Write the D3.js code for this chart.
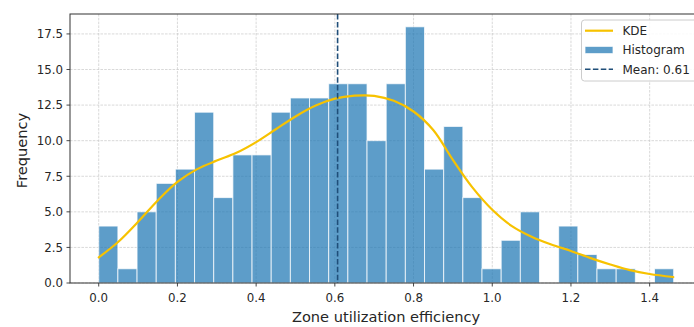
<!DOCTYPE html>
<html>
<head>
<meta charset="utf-8">
<script src="https://cdn.jsdelivr.net/npm/d3@7"></script>
<style>
  html, body { margin: 0; padding: 0; background: #fff; }
  svg { display: block; font-family: "DejaVu Sans", sans-serif; }
</style>
</head>
<body>
<svg id="chart" width="694" height="327"></svg>
<script>
// ---------------- data ----------------
const histCounts = [4, 1, 5, 7, 8, 12, 6, 9, 9, 12, 13, 13, 14, 14, 10, 14, 18, 8, 11, 6, 1, 3, 5, 0, 4, 2, 1, 1, 0, 1];
const histMin = 0.0;
const histMax = 1.461;

const kdeX = [0, 0.05, 0.10, 0.15, 0.20, 0.25, 0.30, 0.35, 0.40, 0.45, 0.50, 0.55, 0.60, 0.65, 0.70,
              0.75, 0.80, 0.85, 0.90, 0.95, 1.00, 1.05, 1.10, 1.15, 1.20, 1.25, 1.30, 1.35, 1.40, 1.46];
const kdeY = [1.8, 2.9, 4.3, 5.8, 7.1, 8.0, 8.6, 9.15, 9.9, 10.8, 11.7, 12.45, 12.95, 13.16, 13.15,
              12.8, 12.05, 10.75, 8.65, 6.7, 5.15, 4.0, 3.25, 2.7, 2.25, 1.75, 1.3, 0.9, 0.63, 0.42];

const meanValue = 0.607;
const meanLabel = "Mean: 0.61";

const xTicks = [0.0, 0.2, 0.4, 0.6, 0.8, 1.0, 1.2, 1.4];
const yTicks = [0.0, 2.5, 5.0, 7.5, 10.0, 12.5, 15.0, 17.5];

const xLabel = "Zone utilization efficiency";
const yLabel = "Frequency";
const legendLabels = ["KDE", "Histogram", meanLabel];

// ---------------- layout ----------------
const svg = d3.select("#chart");
const L = 70, R = 702, T = 14, B = 283;

const x = d3.scaleLinear().domain([-0.073, 1.533]).range([L, R]);
const y = d3.scaleLinear().domain([0, 18.9]).range([B, T]);

const barColor = "#1f77b4";
const kdeColor = "#f7c200";
const meanColor = "#1f4e79";
const textColor = "#262626";

// grid
const grid = svg.append("g");
grid.selectAll("line.gx").data(xTicks).join("line")
  .attr("x1", d => x(d)).attr("x2", d => x(d))
  .attr("y1", T).attr("y2", B)
  .attr("stroke", "#c8c8c8").attr("stroke-width", 0.7)
  .attr("stroke-dasharray", "2.6,1.2");
grid.selectAll("line.gy").data(yTicks).join("line")
  .attr("x1", L).attr("x2", R)
  .attr("y1", d => y(d)).attr("y2", d => y(d))
  .attr("stroke", "#c8c8c8").attr("stroke-width", 0.7)
  .attr("stroke-dasharray", "2.6,1.2");

// histogram bars
const binW = (histMax - histMin) / histCounts.length;
const bins = histCounts.map((c, i) => ({ x0: histMin + i * binW, x1: histMin + (i + 1) * binW, c }));
svg.append("g").selectAll("rect").data(bins.filter(b => b.c > 0)).join("rect")
  .attr("x", d => x(d.x0))
  .attr("y", d => y(d.c))
  .attr("width", d => x(d.x1) - x(d.x0))
  .attr("height", d => y(0) - y(d.c))
  .attr("fill", barColor)
  .attr("fill-opacity", 0.72)
  .attr("stroke", "#ffffff")
  .attr("stroke-opacity", 0.75)
  .attr("stroke-width", 1);

// KDE
const line = d3.line().x(d => x(d[0])).y(d => y(d[1])).curve(d3.curveCatmullRom.alpha(0.5));
svg.append("path")
  .datum(kdeX.map((v, i) => [v, kdeY[i]]))
  .attr("d", line)
  .attr("fill", "none")
  .attr("stroke", kdeColor)
  .attr("stroke-width", 2.2)
  .attr("stroke-linecap", "round");

// mean line
svg.append("line")
  .attr("x1", x(meanValue)).attr("x2", x(meanValue))
  .attr("y1", T).attr("y2", B)
  .attr("stroke", meanColor).attr("stroke-width", 1.6)
  .attr("stroke-dasharray", "5.5,2.4");

// spines
const sp = svg.append("g").attr("stroke", "#333").attr("stroke-width", 1).attr("fill", "none");
sp.append("rect").attr("x", L).attr("y", T).attr("width", R - L).attr("height", B - T);

// x axis ticks
const xAxis = svg.append("g");
xAxis.selectAll("line").data(xTicks).join("line")
  .attr("x1", d => x(d)).attr("x2", d => x(d))
  .attr("y1", B).attr("y2", B + 3.5)
  .attr("stroke", "#333").attr("stroke-width", 0.9);
xAxis.selectAll("text").data(xTicks).join("text")
  .attr("x", d => x(d)).attr("y", 302)
  .attr("text-anchor", "middle")
  .attr("font-size", 11.8).attr("fill", textColor)
  .text(d => d3.format(".1f")(d));

// y axis ticks
const yAxis = svg.append("g");
yAxis.selectAll("line").data(yTicks).join("line")
  .attr("x1", L - 3.5).attr("x2", L)
  .attr("y1", d => y(d)).attr("y2", d => y(d))
  .attr("stroke", "#333").attr("stroke-width", 0.9);
yAxis.selectAll("text").data(yTicks).join("text")
  .attr("x", L - 7).attr("y", d => y(d) + 4.3)
  .attr("text-anchor", "end")
  .attr("font-size", 11.8).attr("fill", textColor)
  .text(d => d3.format(".1f")(d));

// axis labels
svg.append("text")
  .attr("x", (L + R) / 2).attr("y", 321.5)
  .attr("text-anchor", "middle")
  .attr("font-size", 14.6).attr("fill", textColor)
  .text(xLabel);
svg.append("text")
  .attr("transform", `translate(27.3, ${(T + B) / 2 + 2}) rotate(-90)`)
  .attr("text-anchor", "middle")
  .attr("font-size", 14.6).attr("fill", textColor)
  .text(yLabel);

// legend
const lg = svg.append("g");
lg.append("rect")
  .attr("x", 581.5).attr("y", 20).attr("width", 116).attr("height", 61)
  .attr("rx", 3).attr("fill", "#fff").attr("fill-opacity", 0.85)
  .attr("stroke", "#cccccc").attr("stroke-width", 1);
const rowsY = [30.7, 50, 69.3];
lg.append("line").attr("x1", 585).attr("x2", 613).attr("y1", rowsY[0]).attr("y2", rowsY[0])
  .attr("stroke", kdeColor).attr("stroke-width", 2.2);
lg.append("rect").attr("x", 585).attr("y", rowsY[1] - 3.6).attr("width", 28).attr("height", 7.2)
  .attr("fill", barColor).attr("fill-opacity", 0.72)
  .attr("stroke", "#fff").attr("stroke-opacity", 0.75).attr("stroke-width", 1);
lg.append("line").attr("x1", 585).attr("x2", 613).attr("y1", rowsY[2]).attr("y2", rowsY[2])
  .attr("stroke", meanColor).attr("stroke-width", 1.6).attr("stroke-dasharray", "5.5,2.4");
lg.selectAll("text").data(legendLabels).join("text")
  .attr("x", 622.5).attr("y", (d, i) => rowsY[i] + 4.3)
  .attr("font-size", 12).attr("fill", textColor)
  .text(d => d);
</script>
</body>
</html>
